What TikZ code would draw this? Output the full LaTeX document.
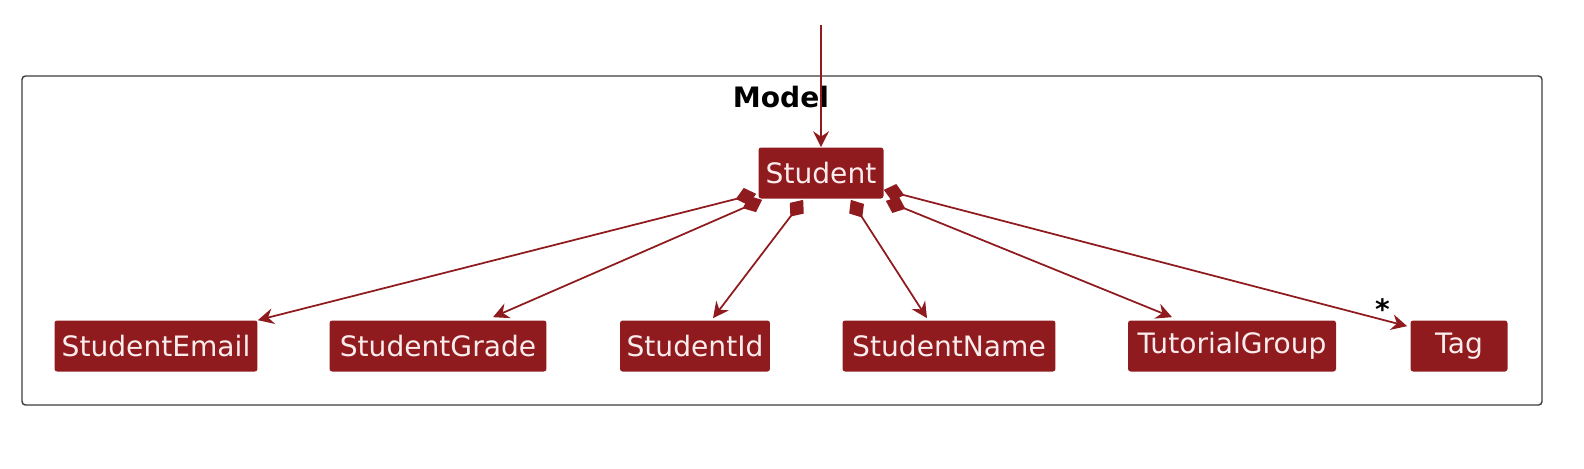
\documentclass[tikz,border=0pt]{standalone}
\usepackage{fontspec}
\setmainfont{DejaVu Sans}
\usepackage{tikz}
\usetikzlibrary{arrows.meta,calc}
\usepackage{xcolor}
\definecolor{umlred}{RGB}{143,27,30}
\definecolor{umltext}{RGB}{250,236,236}
\definecolor{framegray}{RGB}{60,60,60}

\begin{document}
\begin{tikzpicture}[x = 0.02cm, y = -0.02cm,
  cls/.style = {fill=umlred, text=umltext, rounded corners=1.5pt, minimum height=1.02cm, inner sep=0pt, font=\fontsize{16}{18}\selectfont},
  comp/.style = {umlred, line width=1pt, {Diamond[length=12pt,width=10pt]}-{Stealth[length=9pt,width=9pt,inset=3pt]}},
  assoc/.style = {umlred, line width=1pt, -{Stealth[length=9pt,width=9pt,inset=3pt]}}]
\useasboundingbox (0,0) rectangle (1584,468);
% package frame
\draw[framegray, line width = 0.8pt, rounded corners = 2pt] (22,76) rectangle (1542,405);
\node[font = \bfseries\fontsize{16}{18}\selectfont] (model) at (781,97) {Model};
% classes
\node[cls, minimum width = 2.5cm] (student) at (821,173) {Student};
\node[cls, minimum width = 4.06cm] (email) at (156,346) {StudentEmail};
\node[cls, minimum width = 4.34cm] (grade) at (438,346) {StudentGrade};
\node[cls, minimum width = 3.0cm] (id) at (695,346) {StudentId};
\node[cls, minimum width = 4.26cm] (name) at (949,346) {StudentName};
\node[cls, minimum width = 4.16cm] (tutorial) at (1232,346) {TutorialGroup};
\node[cls, minimum width = 1.94cm] (tag) at (1459,346) {Tag};
\coordinate (in) at (821,25);
% links
\draw[assoc] (in) -- (student.north);
\draw[comp] ($(student.south west)+(-2,-5)$) -- (email.north east);
\draw[comp] ($(student.south west)+(4,1)$) -- ($(grade.north)+(55,-3)$);
\draw[comp] ($(student.south west)+(45,1)$) -- ($(id.north)+(18,-2)$);
\draw[comp] ($(student.south east)+(-33,1)$) -- ($(name.north)+(-22,-2)$);
\draw[comp] ($(student.south east)+(2,2)$) -- ($(tutorial.north)+(-60,-3)$);
\draw[comp] ($(student.south east)+(0,-9)$) -- ($(tag.north west)+(-3,6)$) node[black, pos = 1, xshift = -14pt, yshift = 10pt, font = \bfseries\fontsize{16}{18}\selectfont] (mult) {*};
\end{tikzpicture}
\end{document}
